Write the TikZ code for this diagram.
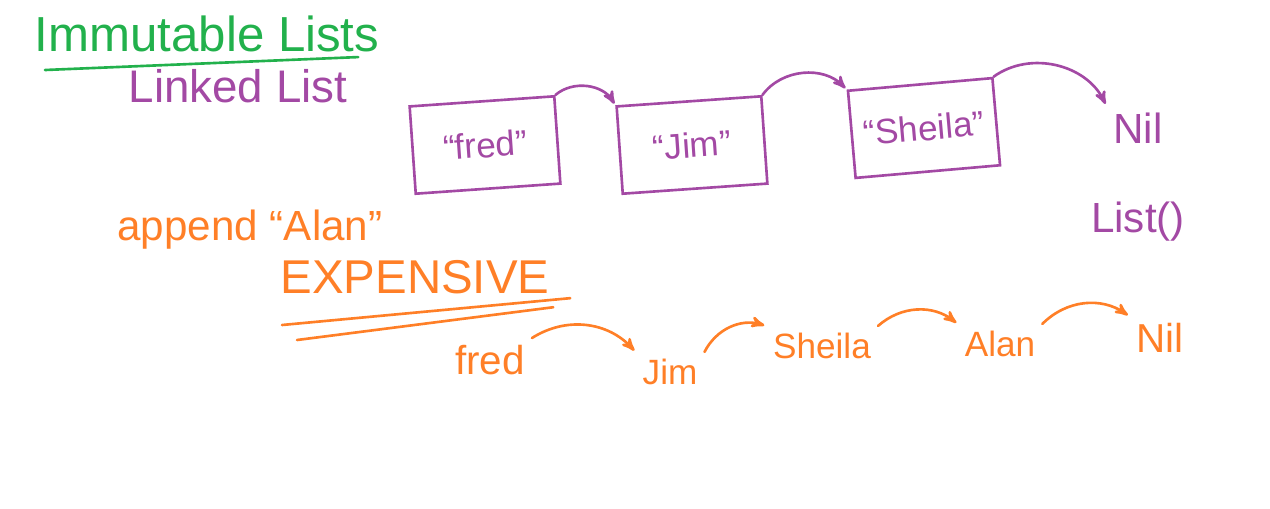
\documentclass[tikz,border=0pt]{standalone}
\usepackage{fontspec}
\setmainfont{Liberation Sans}
\usepackage{tikz}
\usetikzlibrary{positioning, arrows}
\definecolor{inkgreen}{RGB}{34,177,76}
\definecolor{inkpurple}{RGB}{163,73,164}
\definecolor{inkorange}{RGB}{255,127,39}

\begin{document}
\begin{tikzpicture}[%
    x=0.02cm, y=-0.02cm,
    ->, >=stealth', shorten >=1pt,
    line width=1.5pt, line cap=round,
    heading/.style={%
      font=\fontsize{28}{30}\selectfont,
      text=inkgreen
    },
    purple/.style={%
      font=\fontsize{24}{26}\selectfont,
      text=inkpurple
    },
    cell/.style={%
      draw=inkpurple,
      text=inkpurple,
      font=\fontsize{20}{22}\selectfont,
      minimum width=2.9cm,
      minimum height=1.75cm,
      line width=1.5pt
    },
    orange/.style={%
      font=\fontsize{20}{22}\selectfont,
      text=inkorange
    }
  ]
    \useasboundingbox (0,0) rectangle (1270,508);

    % title
    \node[heading] (title) at (207,34) {Immutable Lists};
    \draw[-, inkgreen] (45,70) -- (360,57);

    \node[purple, font=\fontsize{26}{28}\selectfont] (linked) at (238,86) {Linked List};

    % the linked list
    \node[cell, rotate=4] (fred) at (485,145) {“fred”};
    \node[cell, rotate=4] (jim) at (692,145) {“Jim”};
    \node[cell, rotate=5] (sheila) at (924,128) {“Sheila”};

    \node[purple] (nil) at (1138,128) {Nil};
    \node[purple] (emptylist) at (1138,222) {List()};

    \path[inkpurple] (fred.north east) edge [bend left=50] (jim.north west)
          (jim.north east) edge [bend left=50] (sheila.north west)
          (sheila.north east) edge [bend left=50] (nil.north west)
    ;

    % appending
    \node[orange, font=\fontsize{24}{26}\selectfont] (append) at (250,230) {append “Alan”};
    \node[orange, font=\fontsize{27}{29}\selectfont] (expensive) at (415,277) {EXPENSIVE};
    \draw[-, inkorange] (282,325) -- (572,298);
    \draw[-, inkorange] (297,340) -- (555,307);

    \node[orange, font=\fontsize{23}{25}\selectfont] (bfred) at (490,360) {fred};
    \node[orange] (bjim) at (670,372) {Jim};
    \node[orange] (bsheila) at (822,346) {Sheila};
    \node[orange] (balan) at (1000,344) {Alan};
    \node[orange, font=\fontsize{23}{25}\selectfont] (bnil) at (1160,338) {Nil};

    \path[inkorange] (bfred.north east) edge [bend left=40] (bjim.north west)
          (bjim.north east) edge [bend left=40] (bsheila.north west)
          (bsheila.north east) edge [bend left=40] (balan.north west)
          (balan.north east) edge [bend left=40] (bnil.north west)
    ;
\end{tikzpicture}
\end{document}
